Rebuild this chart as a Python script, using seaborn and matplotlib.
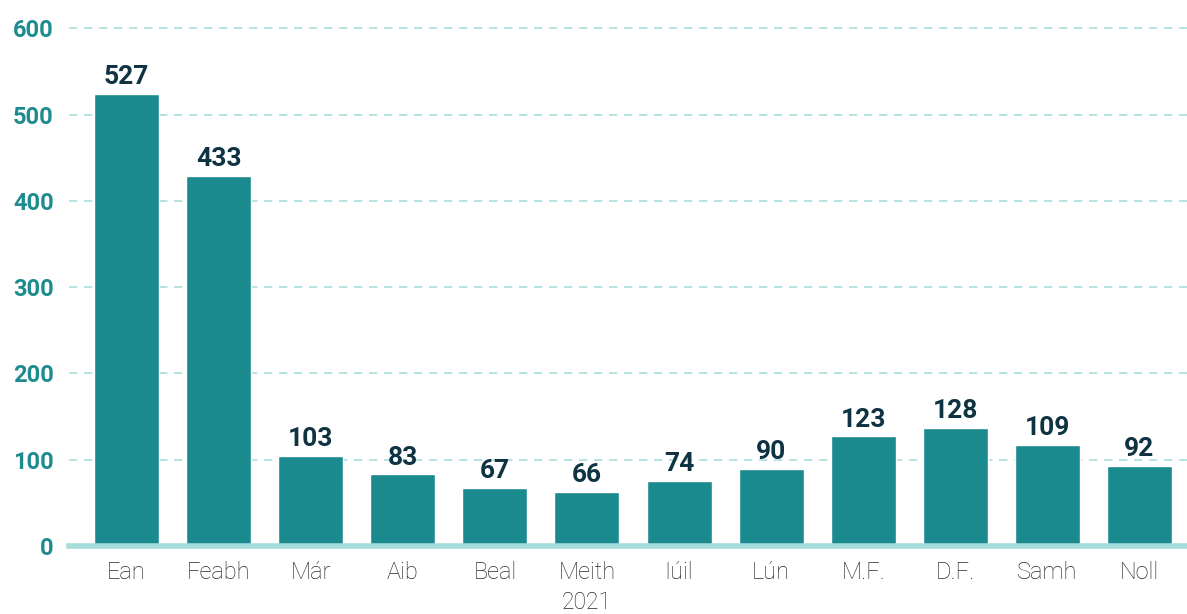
import matplotlib
matplotlib.use("Agg")
import matplotlib.pyplot as plt
import seaborn as sns
import pandas as pd

months = ["Ean", "Feabh", "Már", "Aib", "Beal", "Meith", "Iúil", "Lún", "M.F.", "D.F.", "Samh", "Noll"]
# bar heights as drawn in the picture
heights = [524, 429, 104, 83, 67, 63, 75, 89, 127, 137, 117, 93]
# value labels printed above the bars
value_labels = ["527", "433", "103", "83", "67", "66", "74", "90", "123", "128", "109", "92"]
y_ticks = [0, 100, 200, 300, 400, 500, 600]
year_label = "2021"

BAR = "#1b8a8f"
GRID = "#a9dedd"
TEXT_DARK = "#0f3342"

sns.set_theme(style="white")
plt.rcParams["font.family"] = ["Roboto", "DejaVu Sans"]

df = pd.DataFrame({"month": months, "value": heights})

fig = plt.figure(figsize=(11.87, 6.14), dpi=100)
ax = fig.add_axes([69 / 1187, 68 / 614, 1 - 69 / 1187, 546 / 614])

sns.barplot(data=df, x="month", y="value", color=BAR, width=0.706,
            saturation=1, ax=ax, zorder=3)

for i, (h, lab) in enumerate(zip(heights, value_labels)):
    ax.annotate(lab, (i, h), xytext=(0, 3.5), textcoords="offset points",
                ha="center", va="bottom", fontsize=19, fontweight="bold",
                color=TEXT_DARK, zorder=4)

ax.set_xlim(-0.625, 11.516)
ax.set_ylim(0, 632.7)
ax.set_yticks(y_ticks)
ax.set_yticklabels([str(t) for t in y_ticks], fontsize=17, fontweight="bold", color="#1e8c8f")
ax.tick_params(axis="y", length=0, pad=11)
ax.tick_params(axis="x", length=0, pad=11, labelsize=17, labelcolor="#2a2a2a")
for t in ax.get_xticklabels():
    t.set_fontweight("light")

for t in y_ticks[1:]:
    ax.axhline(t, color=GRID, lw=1.2, ls=(0, (5, 4)), zorder=1)

for s in ["top", "right", "left"]:
    ax.spines[s].set_visible(False)
ax.spines["bottom"].set_color("#a6dcd9")
ax.spines["bottom"].set_linewidth(4)
ax.spines["bottom"].set_zorder(5)

ax.set_xlabel("")
ax.set_ylabel("")
ax.text(5, -0.103, year_label, transform=ax.get_xaxis_transform(), ha="center",
        va="center", fontsize=16.5, fontweight="light", color="#2a2a2a")

fig.savefig("out.png", dpi=100)
